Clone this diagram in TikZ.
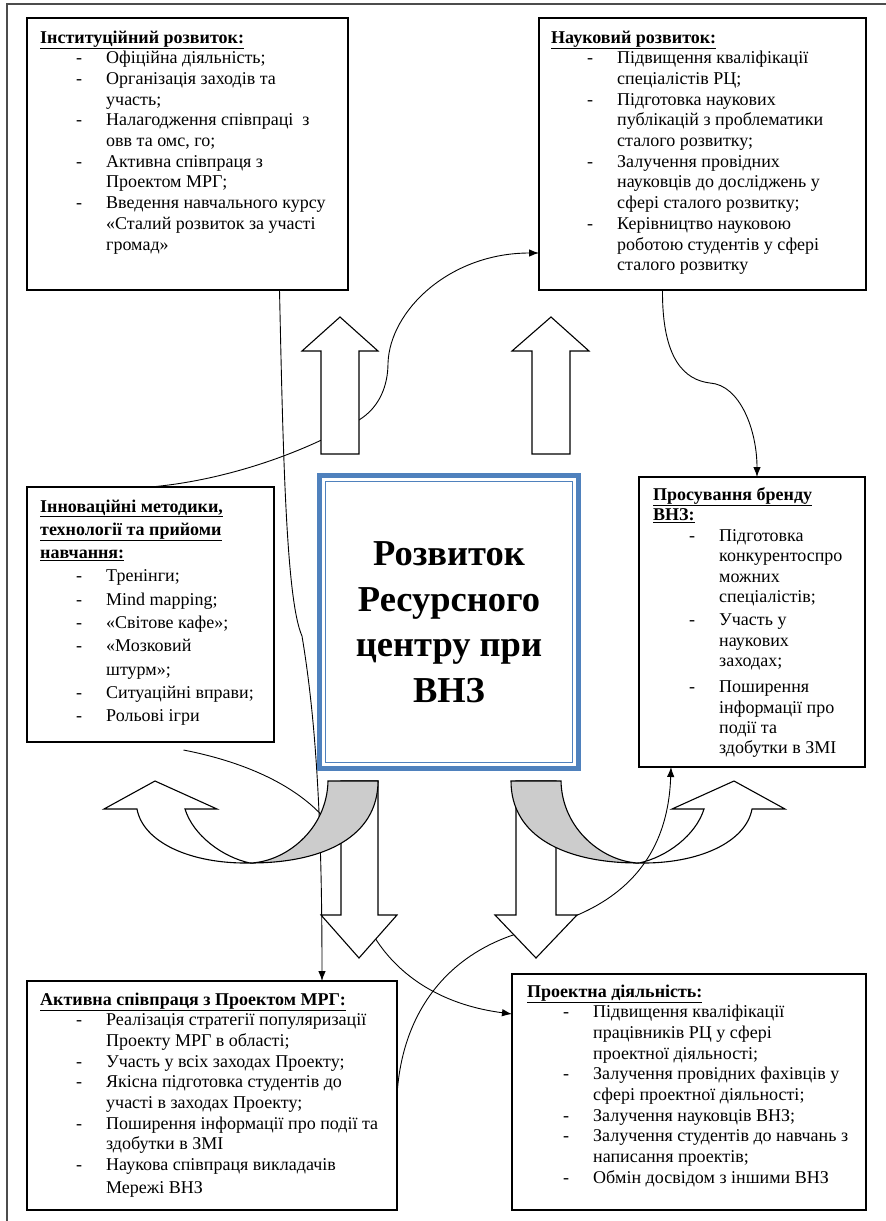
\documentclass[tikz,border=0pt]{standalone}
\usepackage{fontspec}
\setmainfont{Liberation Serif}
\usetikzlibrary{arrows.meta}
\definecolor{hubblue}{RGB}{79,129,189}
\definecolor{backgray}{RGB}{204,204,204}
\newcommand{\headrow}[1]{\multicolumn{3}{@{}l@{}}{\textbf{\underline{#1}}}}
\newenvironment{itemtab}{\begin{tabular}[t]{@{}p{36pt}@{}p{30pt}@{}l@{}}}{\end{tabular}}

\begin{document}
\begin{tikzpicture}[x=1pt, y=-1pt,
    infobox/.style={draw, line width=1.2pt, anchor=north west, inner sep=0pt, outer sep=0pt},
    boxtext/.style={anchor=base west, inner sep=0pt, font=\fontsize{18}{20.7}\selectfont},
    hubbox/.style={draw=hubblue, line width=5pt, fill=white, inner sep=0pt, outer sep=0pt,
      minimum width=259pt, minimum height=293pt, align=center,
      font=\fontsize{36.5}{45.5}\selectfont\bfseries},
    blockarrow/.style={draw, fill=white, line width=1.1pt, line join=miter},
    link/.style={line width=0.9pt, -{Latex[length=10pt, width=7.5pt]}}]

\useasboundingbox (0,0) rectangle (886,1221);
% page frame
\draw[line width=1.5pt, black!70] (7,1221) -- (7,4) -- (886,4);

% boxes
\node[infobox, minimum width=321pt, minimum height=272pt] (inst) at (27,18) {};
\node[infobox, minimum width=327pt, minimum height=272pt] (sci) at (539,18) {};
\node[infobox, minimum width=247pt, minimum height=255pt] (innov) at (27,487) {};
\node[infobox, minimum width=226pt, minimum height=290pt] (brand) at (639,477) {};
\node[infobox, minimum width=370pt, minimum height=229pt] (coop) at (27,981) {};
\node[infobox, minimum width=354pt, minimum height=236pt] (proj) at (512,974) {};

\node[boxtext] (inst-txt) at ([shift={(13,25)}]inst.north west) {\begin{itemtab}
\headrow{Інституційний розвиток:}\\
& - & Офіційна діяльність;\\
& - & Організація заходів та\\
& & участь;\\
& - & Налагодження співпраці~ з\\
& & овв та омс, го;\\
& - & Активна співпраця з\\
& & Проектом МРГ;\\
& - & Введення навчального курсу\\
& & «Сталий розвиток за участі\\
& & громад»
\end{itemtab}};

\node[boxtext] (sci-txt) at ([shift={(12,25)}]sci.north west) {\begin{itemtab}
\headrow{Науковий розвиток:}\\
& - & Підвищення кваліфікації\\
& & спеціалістів РЦ;\\
& - & Підготовка наукових\\
& & публікацій з проблематики\\
& & сталого розвитку;\\
& - & Залучення провідних\\
& & науковців до досліджень у\\
& & сфері сталого розвитку;\\
& - & Керівництво науковою\\
& & роботою студентів у сфері\\
& & сталого розвитку
\end{itemtab}};

\node[boxtext, font=\fontsize{18}{23.3}\selectfont] (innov-txt) at ([shift={(13,25)}]innov.north west) {\begin{itemtab}
\headrow{Інноваційні методики,}\\
\headrow{технології та прийоми}\\
\headrow{навчання:}\\
& - & Тренінги;\\
& - & Mind mapping;\\
& - & «Світове кафе»;\\
& - & «Мозковий\\
& & штурм»;\\
& - & Ситуаційні вправи;\\
& - & Рольові ігри
\end{itemtab}};

\node[boxtext, font=\fontsize{18}{20.3}\selectfont] (brand-txt) at ([shift={(14,23)}]brand.north west) {\begin{itemtab}
\headrow{Просування бренду}\\
\headrow{ВНЗ:}\\[1pt]
& - & Підготовка\\
& & конкурентоспро\\
& & можних\\
& & спеціалістів;\\[3pt]
& - & Участь у\\
& & наукових\\
& & заходах;\\[6pt]
& - & Поширення\\
& & інформації про\\
& & події та\\
& & здобутки в ЗМІ
\end{itemtab}};

\node[boxtext] (coop-txt) at ([shift={(13,24)}]coop.north west) {\begin{itemtab}
\headrow{Активна співпраця з Проектом МРГ:}\\
& - & Реалізація стратегії популяризації\\
& & Проекту МРГ в області;\\
& - & Участь у всіх заходах Проекту;\\
& - & Якісна підготовка студентів до\\
& & участі в заходах Проекту;\\
& - & Поширення інформації про події та\\
& & здобутки в ЗМІ\\
& - & Наукова співпраця викладачів\\[2pt]
& & Мережі ВНЗ
\end{itemtab}};

\node[boxtext] (proj-txt) at ([shift={(15,23)}]proj.north west) {\begin{itemtab}
\headrow{Проектна діяльність:}\\
& - & Підвищення кваліфікації\\
& & працівників РЦ у сфері\\
& & проектної діяльності;\\
& - & Залучення провідних фахівців у\\
& & сфері проектної діяльності;\\
& - & Залучення науковців ВНЗ;\\
& - & Залучення студентів до навчань з\\
& & написання проектів;\\
& - & Обмін досвідом з іншими ВНЗ
\end{itemtab}};

% connectors
\draw[link] ([shift={(92,0)}]inst.south) .. controls (283,450) and (286,600) .. (302,636)
  .. controls (316,720) and (322,820) .. ([shift={(110,0)}]coop.north);
\draw[link] (innov.north) .. controls (230,480) and (310,450) .. (359,420)
  .. controls (380,407) and (388,385) .. (388,363)
  .. controls (390,310) and (450,253) .. ([shift={(0,-37)}]sci.south west);
\draw[link] ([shift={(-40,0)}]sci.south) .. controls (662,360) and (685,380) .. (710,383)
  .. controls (740,385) and (757,430) .. ([shift={(5,0)}]brand.north);
\draw[link] (coop.east) .. controls (402,1010) and (450,950) .. (530,930)
  .. controls (620,910) and (668,860) .. ([shift={(-81,0)}]brand.south);
\draw[link] ([shift={(33,8)}]innov.south) .. controls (260,765) and (335,800) .. (352,870)
  .. controls (358,935) and (405,1000) .. ([shift={(0,40)}]proj.north west);

% centre
\node[hubbox] (hub) at (449,622) {Розвиток\\Ресурсного\\центру при\\ВНЗ};
\draw[hubblue, line width=1.5pt] ([shift={(6,6)}]hub.north west) rectangle ([shift={(-6,-6)}]hub.south east);

% block arrows
\draw[blockarrow] (321,454) -- (321,351) -- (302,351) -- (340,317) -- (378,351) -- (359,351) -- (359,454) -- cycle;
\draw[blockarrow] (532,454) -- (532,351) -- (512,351) -- (551,317) -- (589,351) -- (570,351) -- (570,454) -- cycle;
\draw[blockarrow] (341,781) -- (341,915) -- (321,915) -- (359,958) -- (397,915) -- (378,915) -- (378,781) -- cycle;
\draw[blockarrow] (516,781) -- (516,915) -- (495,915) -- (536,958) -- (577,915) -- (556,915) -- (556,781) -- cycle;

% curved arrows (right one mirrored)
\foreach \flip in {1,-1} {
  \begin{scope}[xshift=444.5pt, xscale=\flip]
    \draw[blockarrow] (-194.5,863) .. controls (-254.5,864) and (-301.5,842) .. (-307.5,809)
      -- (-340.5,809) -- (-289.5,781) -- (-227.5,809) -- (-259.5,809)
      .. controls (-251.5,835) and (-222.5,857) .. (-194.5,863) -- cycle;
    \draw[blockarrow, fill=backgray] (-66.5,781) .. controls (-66.5,836) and (-119.5,863) .. (-194.5,863)
      .. controls (-159.5,862) and (-117.5,830) .. (-116.5,781) -- cycle;
  \end{scope}
}
\end{tikzpicture}
\end{document}
